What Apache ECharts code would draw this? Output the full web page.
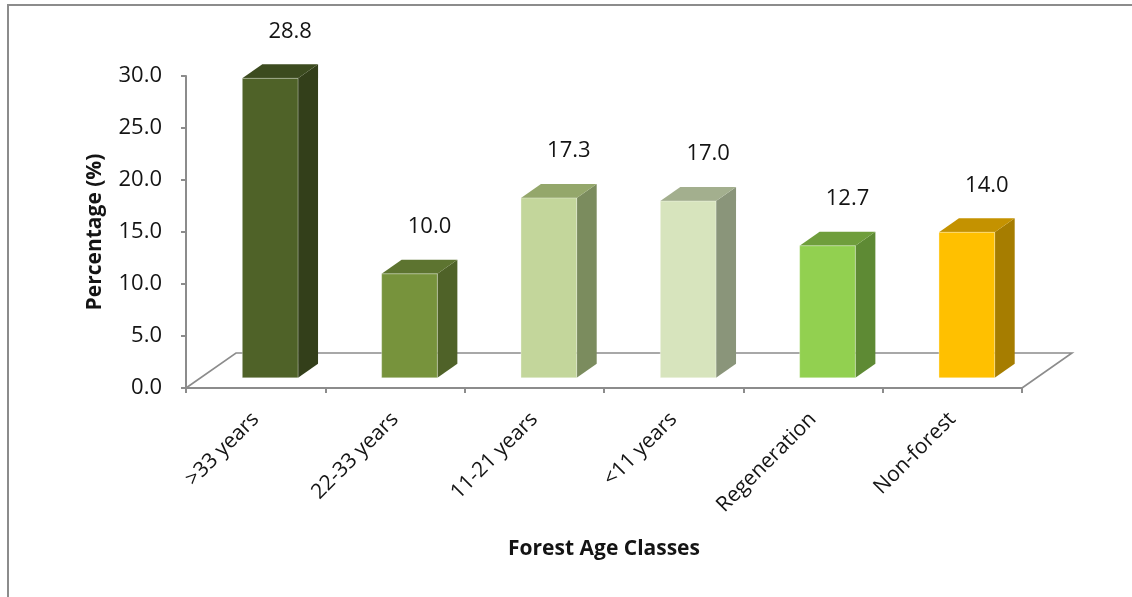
<!DOCTYPE html>
<html>
<head>
<meta charset="utf-8">
<title>Forest Age Classes</title>
<script src="https://cdn.jsdelivr.net/npm/echarts@6/dist/echarts.min.js"></script>
<style>
  html, body { margin: 0; padding: 0; background: #ffffff; }
  #chart { width: 1132px; height: 597px; }
</style>
</head>
<body>
<div id="chart"></div>
<script>
// Share of area by forest age class
const categories = ['>33 years', '22-33 years', '11-21 years', '<11 years', 'Regeneration', 'Non-forest'];
const percentages = [28.8, 10.0, 17.3, 17.0, 12.7, 14.0];
const yTicks = [0, 5, 10, 15, 20, 25, 30];

// Face colours per bar: front, right side, top
const frontColors = ['#4f6228', '#77933c', '#c3d69b', '#d7e4bd', '#92d050', '#ffc000'];
const sideColors  = ['#333f1a', '#4f6228', '#7b8c5e', '#8a957a', '#5e8a34', '#a67d00'];
const topColors   = ['#3c4b1f', '#5d7430', '#94a76b', '#a3af8e', '#6f9e3c', '#c49200'];

// Oblique projection of the floor depth
const FLOOR_DX = 50, FLOOR_DY = 35;
const BAR_SHIFT = 0.29;   // bar front plane, as fraction of floor depth
const BAR_DEPTH = 0.40;   // bar depth, as fraction of floor depth
const BAR_RATIO = 0.40;   // bar width, as fraction of category band

const FONT = 'Open Sans';
const TEXT_COLOR = '#141414';
const AXIS_GREY = '#8c8c8c';

const chart = echarts.init(document.getElementById('chart'), null, { renderer: 'canvas' });

function renderFloor(params, api) {
  const band = api.size([1, 0])[0];
  const first = api.coord([0, 0]);
  const last = api.coord([categories.length - 1, 0]);
  const x0 = first[0] - band / 2, x1 = last[0] + band / 2, y0 = first[1];
  return {
    type: 'polyline',
    shape: {
      points: [
        [x0, y0],
        [x0 + FLOOR_DX, y0 - FLOOR_DY],
        [x1 + FLOOR_DX, y0 - FLOOR_DY],
        [x1, y0]
      ]
    },
    style: { stroke: AXIS_GREY, lineWidth: 1.6, fill: null },
    silent: true
  };
}

function renderBar(params, api) {
  const i = api.value(0);
  const v = api.value(1);
  const band = api.size([1, 0])[0];
  const base = api.coord([i, 0]);
  const top = api.coord([i, v]);
  const bw = band * BAR_RATIO;
  const sx = FLOOR_DX * BAR_SHIFT, sy = FLOOR_DY * BAR_SHIFT;
  const dx = FLOOR_DX * BAR_DEPTH, dy = FLOOR_DY * BAR_DEPTH;
  const fx = base[0] + sx - bw / 2;
  const fy0 = base[1] - sy;   // front bottom
  const fy1 = top[1] - sy;    // front top
  const idx = params.dataIndex;
  return {
    type: 'group',
    children: [
      {
        type: 'polygon',
        shape: { points: [[fx + bw, fy1], [fx + bw + dx, fy1 - dy], [fx + bw + dx, fy0 - dy], [fx + bw, fy0]] },
        style: { fill: sideColors[idx] }
      },
      {
        type: 'polygon',
        shape: { points: [[fx, fy1], [fx + dx, fy1 - dy], [fx + bw + dx, fy1 - dy], [fx + bw, fy1]] },
        style: { fill: topColors[idx] }
      },
      {
        type: 'rect',
        shape: { x: fx, y: fy1, width: bw, height: fy0 - fy1 },
        style: { fill: frontColors[idx], stroke: 'rgba(255,255,255,0.35)', lineWidth: 1 }
      },
      {
        type: 'text',
        x: fx + bw / 2 + dx,
        y: fy1 - dy - 33,
        style: {
          text: v.toFixed(1),
          fill: TEXT_COLOR,
          font: '22px "' + FONT + '"',
          align: 'center',
          verticalAlign: 'middle'
        }
      }
    ]
  };
}

const option = {
  backgroundColor: '#ffffff',
  animation: false,
  graphic: [{
    type: 'polyline',
    shape: { points: [[8, 640], [8, 5], [1200, 5]] },
    style: { fill: null, stroke: AXIS_GREY, lineWidth: 2 },
    silent: true,
    z: 100
  }],
  grid: { left: 186, right: 110, top: 76, bottom: 209, containLabel: false },
  xAxis: {
    type: 'category',
    data: categories,
    boundaryGap: true,
    name: 'Forest Age Classes',
    nameLocation: 'middle',
    nameGap: 151,
    nameTextStyle: { fontFamily: FONT, fontWeight: 'bold', fontSize: 21, color: TEXT_COLOR },
    axisLine: { show: true, lineStyle: { color: AXIS_GREY, width: 2 } },
    axisTick: { show: true, alignWithLabel: false, length: 5, lineStyle: { color: AXIS_GREY, width: 2 } },
    axisLabel: { rotate: 45, margin: 28, fontFamily: FONT, fontSize: 21, color: TEXT_COLOR, interval: 0 },
    splitLine: { show: false }
  },
  yAxis: {
    type: 'value',
    min: yTicks[0],
    max: yTicks[yTicks.length - 1],
    interval: yTicks[1] - yTicks[0],
    name: 'Percentage (%)',
    nameLocation: 'middle',
    nameGap: 80,
    nameTextStyle: { fontFamily: FONT, fontWeight: 'bold', fontSize: 21, color: TEXT_COLOR },
    axisLine: { show: true, lineStyle: { color: AXIS_GREY, width: 2 } },
    axisTick: { show: true, length: 5, lineStyle: { color: AXIS_GREY, width: 2 } },
    axisLabel: { margin: 24, fontFamily: FONT, fontSize: 22, color: TEXT_COLOR, formatter: v => v.toFixed(1) },
    splitLine: { show: false }
  },
  series: [
    {
      type: 'custom',
      name: 'floor',
      renderItem: renderFloor,
      data: [[0, 0]],
      clip: false,
      silent: true,
      z: 1
    },
    {
      type: 'custom',
      name: 'Percentage',
      renderItem: renderBar,
      data: percentages.map((v, i) => [i, v]),
      encode: { x: 0, y: 1 },
      clip: false,
      z: 2
    }
  ]
};

chart.setOption(option);
</script>
</body>
</html>
